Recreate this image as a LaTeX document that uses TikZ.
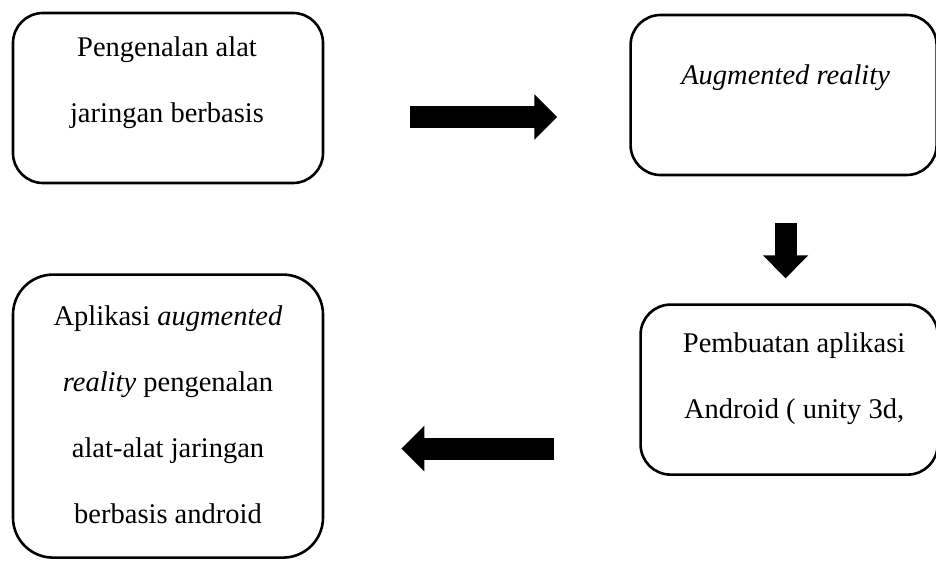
\documentclass[tikz,border=0pt]{standalone}
\usepackage{fontspec}
\setmainfont{Liberation Serif}
\usetikzlibrary{positioning,arrows.meta}

\begin{document}
\begin{tikzpicture}[auto,node distance=100pt,
        box/.style={draw,line width=2.6pt,rounded corners=30pt,inner sep=0pt},
        box text/.style={align=center,font=\fontsize{28.5}{66}\selectfont},
        big arrow/.style={line width=22pt,-{Triangle[length=23pt,width=44pt]}}]

        \useasboundingbox (0pt,0pt) rectangle (936pt,-560pt);

        \node[box] [minimum width=310pt,minimum height=170pt] (intro) at (168pt,-98pt) {};
        \node[box] [minimum width=306pt,minimum height=160pt,yshift=3pt] (ar) [right=305pt of intro] {};
        \node[box] [minimum width=297pt,minimum height=170pt,xshift=5.5pt] (build) [below=127pt of ar] {};
        \node[box] [minimum width=310pt,minimum height=283pt,yshift=-26.5pt,rounded corners=40pt] (app) [left=315pt of build] {};

        \node[box text] (intro text) at ([xshift=-1pt,yshift=15.5pt]intro.center) {Pengenalan alat\\jaringan berbasis};
        \node[box text] (ar text) at ([xshift=2pt,yshift=17pt]ar.center) {\itshape Augmented reality};
        \node[box text] (build text) at ([xshift=5pt,yshift=11pt]build.center) {Pembuatan aplikasi\\Android ( unity 3d,};
        \node[box text] (app text) at ([yshift=1.5pt]app.center) {Aplikasi \textit{augmented}\\\textit{reality} pengenalan\\alat-alat jaringan\\berbasis android};

        \draw[big arrow,shorten <=86pt,shorten >=72pt] ([yshift=-19pt]intro.east) -- ([yshift=-22pt]ar.west);
        \draw[big arrow,shorten <=47pt,shorten >=25pt] ([xshift=2pt]ar.south) -- ([xshift=-3.5pt]build.north);
        \draw[big arrow,shorten <=85pt,shorten >=77pt] ([yshift=-59pt]build.west) -- ([yshift=-32.5pt]app.east);
\end{tikzpicture}
\end{document}
